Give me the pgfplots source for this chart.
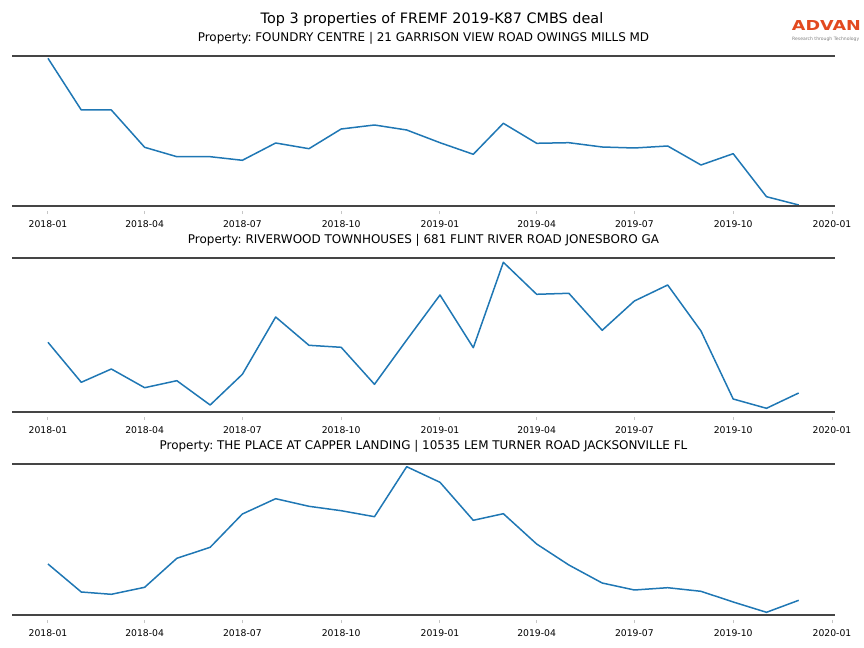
\documentclass[border=0pt]{standalone}
\usepackage{pgfplots}
\pgfplotsset{compat=1.18}
\usepackage{fontspec}
\setmainfont{DejaVu Sans}
\frenchspacing
\definecolor{mplblue}{HTML}{1F77B4}
\definecolor{spinecol}{HTML}{454545}
\definecolor{advan}{HTML}{E2491F}

\pgfplotsset{
  panel/.style={
    scale only axis, width=823bp,
    xmin=-33.5, xmax=732.8, ymin=0,
    axis line style={draw=none},
    ytick=\empty,
    xtick={0,90,181,273,365,455,546,638,730},
    xticklabels={2018-01,2018-04,2018-07,2018-10,2019-01,2019-04,2019-07,2019-10,2020-01},
    tick pos=left, tick align=outside, major tick length=3.5bp,
    xtick style={draw=gray!45, line width=1bp, yshift=-5bp},
    xticklabel style={font=\fontsize{9.3}{11}\selectfont, anchor=base, yshift=-18.5bp},
    title style={font=\fontsize{12}{14}\selectfont, at={(0.5,1)}, anchor=base, yshift=8.5bp},
    clip=false,
    anchor=south west,
  },
  series/.style={mplblue, line width=1.5bp, line join=round, no markers},
}

\begin{document}
\begin{tikzpicture}
\path[use as bounding box] (0,0) rectangle (864bp,648bp);

\node[anchor=base, font=\fontsize{14.45}{17}\selectfont] at (432bp,624bp) {Top 3 properties of FREMF 2019-K87 CMBS deal};

\node[anchor=south west, inner sep=0pt, text=advan] at (791.7bp,617bp) {\resizebox{69bp}{10bp}{\bfseries ADVAN}};
\node[anchor=north west, inner sep=0pt, text=gray] at (792bp,611.5bp) {\resizebox{67bp}{!}{Research through Technology}};

% Panel 1
\begin{axis}[panel, at={(12bp,442.3bp)}, height=150bp, ymax=150,
  title={Property: FOUNDRY CENTRE | 21 GARRISON VIEW ROAD OWINGS MILLS MD}]
\addplot[series] coordinates {
(0,147.4) (31,95.7) (59,95.7) (90,58.4) (120,49) (151,49) (181,45.4) (212,62.7)
(243,57) (273,76.7) (304,80.7) (334,75.7) (365,63) (396,51.4) (424,82.4) (455,62.4)
(485,63) (516,58.7) (546,57.7) (577,59.7) (608,40.7) (638,52) (669,9) (699,0.7)
};
\draw[spinecol, line width=1.9bp] (rel axis cs:0,0) -- (rel axis cs:1,0);
\draw[spinecol, line width=1.9bp] (rel axis cs:0,1) -- (rel axis cs:1,1);
\end{axis}

% Panel 2
\begin{axis}[panel, at={(12bp,236.3bp)}, height=153.7bp, ymax=153.7,
  title={Property: RIVERWOOD TOWNHOUSES | 681 FLINT RIVER ROAD JONESBORO GA}]
\addplot[series] coordinates {
(0,69.4) (31,29.4) (59,42.7) (90,24) (120,31) (151,6.7) (181,37.4) (212,94.7)
(243,66.4) (273,64.4) (304,27.4) (334,71.7) (365,116.7) (396,64) (424,149.4) (455,117.4)
(485,118.4) (516,81.4) (546,110.7) (577,126.7) (608,80.7) (638,12.7) (669,3.4) (699,18.7)
};
\draw[spinecol, line width=1.9bp] (rel axis cs:0,0) -- (rel axis cs:1,0);
\draw[spinecol, line width=1.9bp] (rel axis cs:0,1) -- (rel axis cs:1,1);
\end{axis}

% Panel 3
\begin{axis}[panel, at={(12bp,33.3bp)}, height=150.7bp, ymax=150.7,
  title={Property: THE PLACE AT CAPPER LANDING | 10535 LEM TURNER ROAD JACKSONVILLE FL}]
\addplot[series] coordinates {
(0,50.7) (31,22.7) (59,20.4) (90,27.4) (120,56.4) (151,67.4) (181,100.7) (212,116)
(243,108.4) (273,104) (304,98) (334,148) (365,132.4) (396,94.4) (424,101) (455,70.7)
(485,49.7) (516,31.7) (546,24.7) (577,27) (608,23.4) (638,12.7) (669,2.4) (699,14.4)
};
\draw[spinecol, line width=1.9bp] (rel axis cs:0,0) -- (rel axis cs:1,0);
\draw[spinecol, line width=1.9bp] (rel axis cs:0,1) -- (rel axis cs:1,1);
\end{axis}
\end{tikzpicture}
\end{document}
